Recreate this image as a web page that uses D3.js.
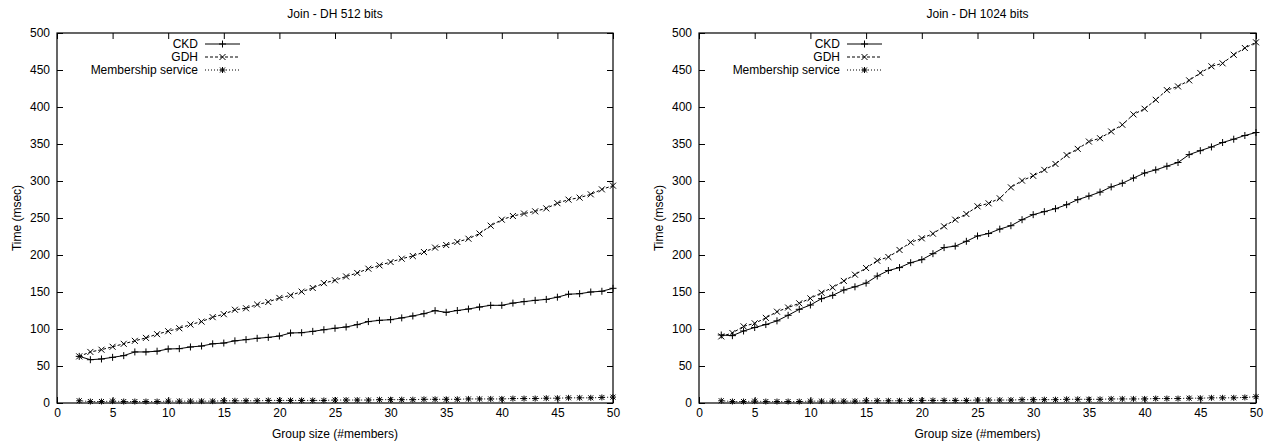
<!DOCTYPE html>
<html>
<head>
<meta charset="utf-8">
<script src="https://cdn.jsdelivr.net/npm/d3@7"></script>
<style>
body { margin: 0; background: #fff; }
text { font-family: "Liberation Sans", Arial, Helvetica, sans-serif; font-size: 12px; fill: #000; }
</style>
</head>
<body>
<div id="chart"></div>
<script>
// group sizes on the x axis
var groupSizes = [2, 3, 4, 5, 6, 7, 8, 9, 10, 11, 12, 13, 14, 15, 16, 17, 18, 19, 20, 21, 22, 23, 24, 25, 26,
    27, 28, 29, 30, 31, 32, 33, 34, 35, 36, 37, 38, 39, 40, 41, 42, 43, 44, 45, 46, 47, 48, 49, 50];

// DH 512 bits
var ckd512 = [63, 58.5, 59.5, 61.7, 64, 69, 69, 70, 73, 73.4, 75.7, 77, 80, 81, 84, 85.6, 87.4, 88.7, 90.5, 94.6,
    95, 96.8, 99, 101, 102.7, 105.9, 110, 111.7, 112.6, 115, 117.6, 120.7, 124.8, 122.5, 125, 127, 129.7, 132,
    132, 135, 137, 138.7, 140, 143, 147, 147.7, 150, 151, 155];
var gdh512 = [63, 69, 72, 76, 80, 84, 88, 93, 97, 101, 106, 110, 116, 120, 126, 128, 133, 136.5, 142, 145.5,
    150.5, 155.4, 162, 165.8, 171, 175.7, 181.5, 186, 190.5, 195, 198.6, 204, 210, 213.5, 217.6, 222, 229,
    239.6, 247.7, 252.7, 256, 259, 263, 270, 274.8, 277.5, 282, 288.7, 293.7];
var member512 = [3, 2, 2, 2.5, 2, 2, 2, 2, 2.5, 2.5, 2.5, 2.5, 2.5, 3, 3, 3, 3, 3.5, 3.5, 3.5, 3.5, 3.5, 3.5,
    4, 4, 4, 4, 4.5, 4.5, 4.5, 4.5, 5, 5, 5, 5, 5.5, 5.5, 5.5, 5.5, 6, 6, 6, 6.5, 6.5, 7, 7, 7, 7.5, 8];

// DH 1024 bits
var ckd1024 = [91.9, 91, 97.3, 102, 106, 111, 118.5, 126.6, 132.4, 141, 145.5, 152.7, 157, 162, 171.6, 179,
    183, 189.6, 193.7, 201.8, 210, 212, 218.5, 225.7, 229, 235, 239.6, 247.7, 254.5, 258.6, 262.6, 268, 274.8,
    279.7, 285, 292, 297, 304, 310.8, 315, 320, 325, 335.7, 341, 346, 352, 356.5, 361.5, 365.5];
var gdh1024 = [90, 94.6, 103.6, 107.7, 115, 123.4, 129, 134.7, 141.4, 149, 156, 165, 173.4, 182.4, 192.3,
    197.3, 206.8, 217, 222.5, 228.8, 238.7, 247.7, 255.4, 265.8, 269.8, 276.6, 291.4, 300.5, 307, 315, 323,
    335, 343.4, 353.3, 357.8, 366.9, 376, 390, 397.6, 409.7, 422.8, 427.8, 436, 446, 455, 459, 470.6, 479.7,
    487.4];
var member1024 = [3, 2, 2, 2.5, 2, 2, 2, 2, 2.5, 2.5, 2.5, 2.5, 2.5, 3, 3, 3, 3, 3.5, 3.5, 3.5, 3.5, 3.5, 3.5,
    4, 4, 4, 4, 4.5, 4.5, 4.5, 4.5, 5, 5, 5, 5, 5.5, 5.5, 5.5, 5.5, 6, 6, 6, 6.5, 6.5, 7, 7, 7, 7.5, 8.5];

var seriesNames = ["CKD", "GDH", "Membership service"];
var xTicks = [0, 5, 10, 15, 20, 25, 30, 35, 40, 45, 50];
var yTicks = [0, 50, 100, 150, 200, 250, 300, 350, 400, 450, 500];

// marker shapes (gnuplot point types 1, 2, 3)
var plusPath = "M-3.5,0H3.5M0,-3.5V3.5";
var crossPath = "M-3,-3L3,3M-3,3L3,-3";
var starPath = "M-3,0H3M0,-3V3M-2.5,-2.5L2.5,2.5M-2.5,2.5L2.5,-2.5";
var styles = [
    {dash: null, marker: plusPath},
    {dash: "3,2", marker: crossPath},
    {dash: "1,2", marker: starPath}
];

var svg = d3.select("#chart").append("svg")
    .attr("width", 1267)
    .attr("height", 443);

function drawPanel(opt) {
    var left = opt.left, right = opt.right, top = 33, bottom = 403;
    var g = svg.append("g");

    var x = d3.scaleLinear().domain([0, 50]).range([left, right]);
    var y = d3.scaleLinear().domain([0, 500]).range([bottom, top]);

    // axes, ticks pointing inward, mirrored on top and right
    g.append("g")
        .attr("transform", "translate(" + left + ",0)")
        .call(d3.axisLeft(y).tickValues(yTicks).tickSize(-6).tickPadding(7))
        .call(a => a.select(".domain").remove());
    g.append("g")
        .attr("transform", "translate(" + right + ",0)")
        .call(d3.axisRight(y).tickValues(yTicks).tickSize(-6).tickFormat(""))
        .call(a => a.select(".domain").remove());
    g.append("g")
        .attr("transform", "translate(0," + bottom + ")")
        .call(d3.axisBottom(x).tickValues(xTicks).tickSize(-6).tickPadding(5))
        .call(a => a.select(".domain").remove());
    g.append("g")
        .attr("transform", "translate(0," + top + ")")
        .call(d3.axisTop(x).tickValues(xTicks).tickSize(-6).tickFormat(""))
        .call(a => a.select(".domain").remove());
    g.selectAll(".tick line").attr("stroke", "#000");
    g.selectAll("g").attr("font-family", null).attr("font-size", null);

    g.append("rect")
        .attr("x", left).attr("y", top)
        .attr("width", right - left).attr("height", bottom - top)
        .attr("fill", "none").attr("stroke", "#000").attr("stroke-width", 1.2);

    // titles
    g.append("text")
        .attr("x", (left + right) / 2).attr("y", 18)
        .attr("text-anchor", "middle")
        .text(opt.title);
    g.append("text")
        .attr("x", (left + right) / 2).attr("y", 438)
        .attr("text-anchor", "middle")
        .text("Group size (#members)");
    g.append("text")
        .attr("transform", "translate(" + (left - 36) + "," + ((top + bottom) / 2) + ") rotate(-90)")
        .attr("text-anchor", "middle")
        .text("Time (msec)");

    var line = d3.line()
        .x((d, i) => x(groupSizes[i]))
        .y(d => y(d));

    opt.series.forEach(function (vals, k) {
        var st = styles[k];
        g.append("path")
            .datum(vals)
            .attr("d", line)
            .attr("fill", "none")
            .attr("stroke", "#000")
            .attr("stroke-width", 1)
            .attr("stroke-dasharray", st.dash);
        g.selectAll(".pt" + k)
            .data(vals)
            .enter()
            .append("path")
            .attr("class", "pt" + k)
            .attr("transform", (d, i) => "translate(" + x(groupSizes[i]) + "," + y(d) + ")")
            .attr("d", st.marker)
            .attr("fill", "none")
            .attr("stroke", "#000")
            .attr("stroke-width", 1);

        // legend entry
        var ly = 44 + k * 13;
        g.append("text")
            .attr("x", left + 141).attr("y", ly)
            .attr("dy", "0.35em")
            .attr("text-anchor", "end")
            .text(seriesNames[k]);
        g.append("line")
            .attr("x1", left + 148).attr("x2", left + 183)
            .attr("y1", ly).attr("y2", ly)
            .attr("stroke", "#000")
            .attr("stroke-dasharray", st.dash);
        g.append("path")
            .attr("transform", "translate(" + (left + 165.5) + "," + ly + ")")
            .attr("d", st.marker)
            .attr("fill", "none")
            .attr("stroke", "#000");
    });
}

drawPanel({left: 57, right: 613, title: "Join - DH 512 bits", series: [ckd512, gdh512, member512]});
drawPanel({left: 699, right: 1256, title: "Join - DH 1024 bits", series: [ckd1024, gdh1024, member1024]});
</script>
</body>
</html>
